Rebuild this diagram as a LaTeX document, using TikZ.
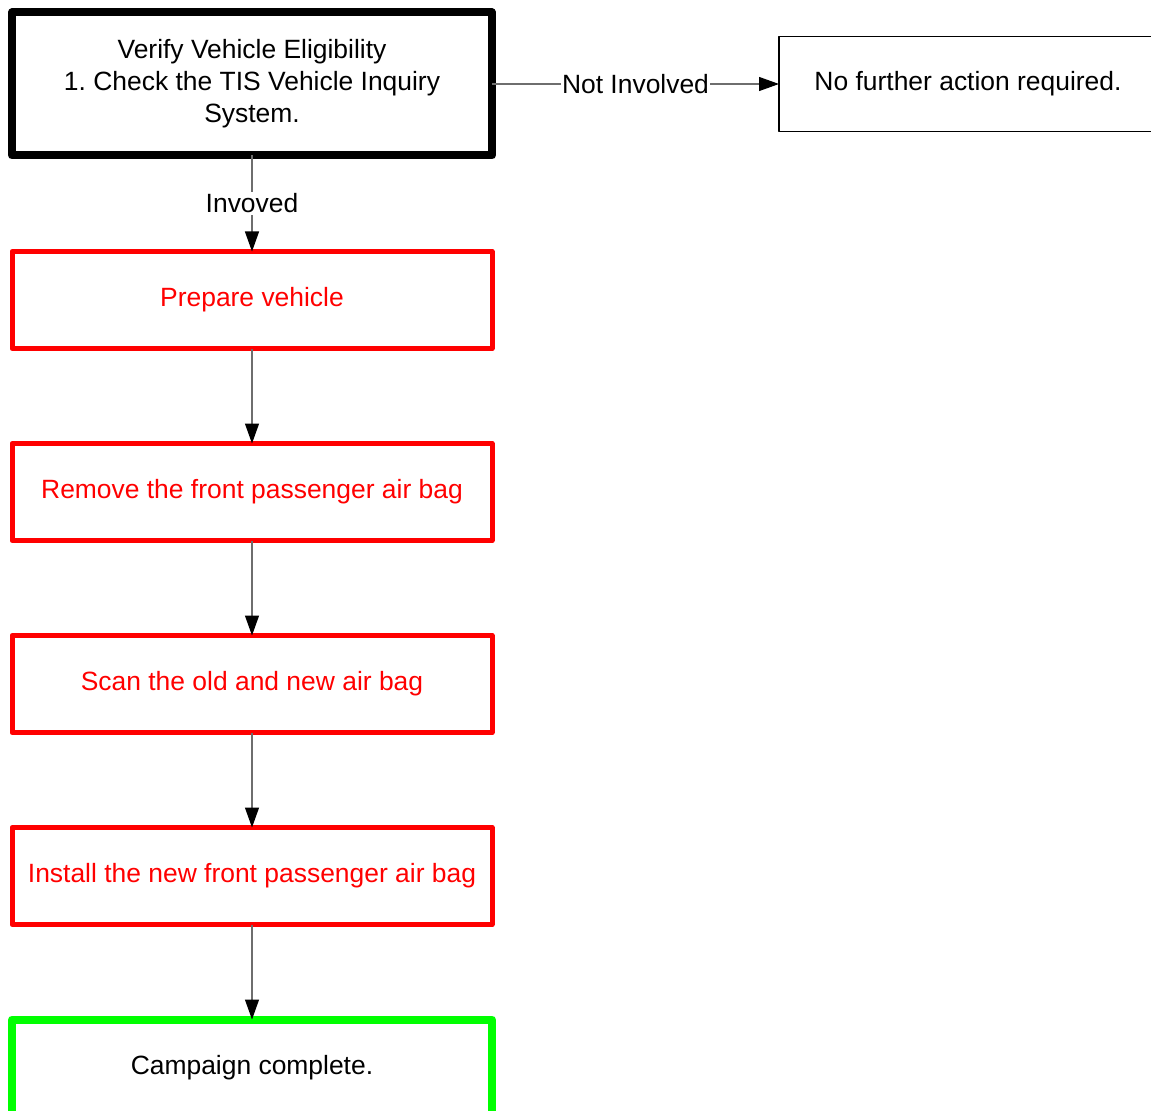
\documentclass[tikz,border=0pt]{standalone}
\usepackage{fontspec}
\setmainfont{Liberation Sans}
\usetikzlibrary{arrows.meta, positioning}
\definecolor{stepred}{RGB}{255,0,0}
\definecolor{donegreen}{RGB}{0,255,0}
\definecolor{link}{RGB}{110,110,110}
\frenchspacing

\begin{document}
\begin{tikzpicture}[
    node distance=2.375cm,
    box/.style={rectangle, draw, outer sep=0pt, minimum width=12cm, minimum height=2.425cm, align=center, font=\fontsize{18.8}{22.8}\selectfont, line join=round},
    check/.style={box, line width=2mm, minimum height=3.575cm},
    task/.style={box, draw=stepred, text=stepred, line width=1.25mm},
    done/.style={box, draw=donegreen, line width=2mm},
    note/.style={box, line width=0.4mm, minimum width=9.45cm, minimum height=2.375cm},
    arrow/.style={-{Triangle[length=5mm, width=3.5mm, black]}, draw=link, line width=0.3mm},
    lbl/.style={fill=white, inner sep=1pt, font=\fontsize{18.8}{22.8}\selectfont}
]
\useasboundingbox (0,0) rectangle (28.775,-27.775);

\node[check] (verify) at (6.3,-2.1) {Verify Vehicle Eligibility\\1. Check the TIS Vehicle Inquiry\\System.};
\node[note, right=7.175cm of verify] (none) {No further action required.};

\node[task, below=2.4cm of verify] (prep) {Prepare vehicle};
\node[task, below=of prep] (remove) {Remove the front passenger air bag};
\node[task, below=of remove] (scan) {Scan the old and new air bag};
\node[task, below=of scan] (install) {Install the new front passenger air bag};
\node[done, below=of install] (complete) {Campaign complete.};

\draw[arrow] (verify) -- node[lbl] {Not Involved} (none);
\draw[arrow] (verify) -- node[lbl] {Invoved} (prep);
\draw[arrow] (prep) -- (remove);
\draw[arrow] (remove) -- (scan);
\draw[arrow] (scan) -- (install);
\draw[arrow] (install) -- (complete);

\end{tikzpicture}
\end{document}
